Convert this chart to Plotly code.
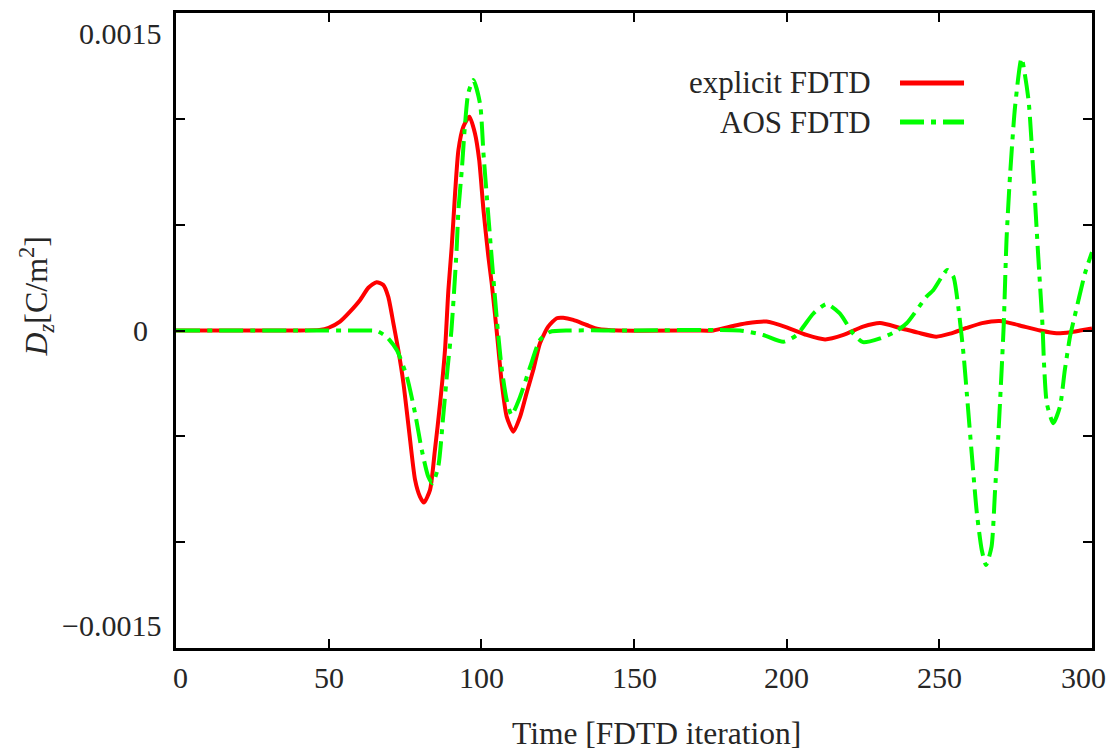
import plotly.graph_objects as go

# ---------------- data ----------------
t_explicit = [0, 20, 40, 47, 50, 53.7, 57, 60.3, 63, 65.7, 67.9, 69.5, 71.2, 72.8, 74.5, 76.3,
              78.3, 79.9, 81.2, 83.2, 84.8, 86.5, 88.1, 89.2, 90.3, 91.4, 92.5, 94.1, 96.1, 97.9,
              99.3, 100.7, 102.3, 103.4, 105.1, 106.7, 108.3, 110.5, 112.7, 114.8, 117, 119.2,
              121.9, 124.7, 126.8, 130.1, 134.5, 138.3, 145, 170, 176, 181.4, 186.9, 193.4, 200,
              206.5, 212.6, 218.6, 225, 230.6, 237.1, 243, 249, 253.5, 258.9, 264, 269.9, 276,
              283, 288.4, 293, 296.1, 300]
d_explicit = [0, 0, 0, 0.000003, 0.000013, 0.000042, 0.000089, 0.000144, 0.000202, 0.000228,
              0.000215, 0.00016, 0.000034, -0.000092, -0.00025, -0.00047, -0.000706, -0.000785,
              -0.000813, -0.000753, -0.000565, -0.000344, -0.000092, 0.00019, 0.000396, 0.000648,
              0.000853, 0.000963, 0.00101, 0.000932, 0.000805, 0.000569, 0.000349, 0.000223,
              -0.000013, -0.000249, -0.000407, -0.000478, -0.000407, -0.000297, -0.000187,
              -0.00006, 0.000018, 0.000058, 0.00006, 0.00005, 0.000026, 0.000007, 0, 0, 0,
              0.000018, 0.000034, 0.000042, 0.000015, -0.000021, -0.000042, -0.000021, 0.000018,
              0.000035, 0.000012, -0.00001, -0.000029, -0.000015, 0.000012, 0.000035, 0.000045,
              0.000025, 0, -0.000013, -0.000008, 0, 0.00001]

t_aos = [0, 40, 60, 65.7, 69, 72.3, 75.6, 78.3, 80.5, 82.6, 84, 85.9, 87.5, 89, 90.2, 91.9,
         92.5, 93.6, 94.6, 95.7, 97.4, 99.6, 100.7, 101.8, 103.1, 105, 106.6, 108.3, 109.9,
         112.7, 116, 119.2, 122.5, 129, 150, 184.7, 192.3, 198.9, 203.3, 208.8, 213.1, 217.4,
         221.8, 225, 230.6, 235, 239.3, 245.8, 248, 252.6, 254.6, 256.2, 257.9, 259, 260.6,
         262.3, 263.9, 265.3, 267.1, 268.2, 269.3, 270.4, 271.1, 272, 273.2, 274.8, 276.9,
         279.2, 280.8, 282.4, 283.8, 284.3, 285.2, 287.3, 289.5, 291.1, 292.8, 293.9, 297.7, 300]
d_aos = [0, 0, 0, -0.000002, -0.00003, -0.000092, -0.000218, -0.000391, -0.000565, -0.00069,
         -0.000722, -0.000643, -0.000407, -0.00017, 0, 0.00038, 0.000569, 0.000758, 0.000963,
         0.00112, 0.001183, 0.00107, 0.000837, 0.000632, 0.000396, 0.000065, -0.000171,
         -0.000328, -0.000399, -0.000313, -0.000171, -0.000045, -0.000006, 0, 0, 0, -0.000021,
         -0.000053, -0.000021, 0.000081, 0.000125, 0.000081, -0.000015, -0.000055, -0.000037,
         -0.00001, 0.000034, 0.00016, 0.00019, 0.000286, 0.000254, 0.000112, -0.000108,
         -0.000297, -0.00058, -0.000864, -0.001037, -0.001108, -0.001021, -0.000769, -0.000502,
         -0.000187, 0.00003, 0.000428, 0.000743, 0.001057, 0.001286, 0.00109, 0.000743,
         0.000349, 0.00002, -0.00016, -0.000344, -0.000438, -0.00036, -0.000187, -0.000029,
         0.00004, 0.00027, 0.00037]

series_names = ["explicit FDTD", "AOS FDTD"]
x_tick_vals = [0, 50, 100, 150, 200, 250, 300]
x_tick_text = ["0", "50", "100", "150", "200", "250", "300"]
y_minor_ticks = [-0.001, -0.0005, 0, 0.0005, 0.001]
y_label_vals = [0.0015, 0, -0.0015]
y_label_text = ["0.0015", "0", "\u22120.0015"]

FONT = "Liberation Serif"
TXT = "#262626"
RED = "#ff0000"
GREEN = "#00ff00"
DASHDOT = "24px,7px,5px,7px"

fig = go.Figure()
fig.add_trace(go.Scatter(x=t_explicit, y=d_explicit, mode="lines", name=series_names[0],
                         line=dict(color=RED, width=4, shape="spline", smoothing=0.6),
                         showlegend=False))
fig.add_trace(go.Scatter(x=t_aos, y=d_aos, mode="lines", name=series_names[1],
                         line=dict(color=GREEN, width=4, dash=DASHDOT, shape="spline", smoothing=0.6),
                         showlegend=False))

axis_common = dict(showgrid=False, zeroline=False, showline=True, linecolor="black",
                   linewidth=3, mirror="ticks", ticks="inside", ticklen=9, tickwidth=2,
                   tickcolor="black", automargin=False, showticklabels=False)

fig.update_xaxes(range=[0, 300], tickvals=x_tick_vals, **axis_common)
fig.update_yaxes(range=[-0.0015, 0.0015], tickvals=y_minor_ticks, **axis_common)

annotations = []
# x tick labels (gnuplot/epslatex places end labels slightly inward)
x_shifts = [4, 0, 0, 0, 0, 0, -9]
for v, txt, xs in zip(x_tick_vals, x_tick_text, x_shifts):
    annotations.append(dict(x=v, xref="x", y=0, yref="paper", text=txt, showarrow=False,
                            xanchor="center", yanchor="middle", xshift=xs, yshift=-29,
                            font=dict(family=FONT, size=30, color=TXT)))
# y tick labels
yshifts = [-20, 0, 23]
xshifts = [-12, -26, -13]
for v, txt, ys, xs in zip(y_label_vals, y_label_text, yshifts, xshifts):
    annotations.append(dict(x=0, xref="paper", y=v, yref="y", text=txt, showarrow=False,
                            xanchor="right", yanchor="middle", xshift=xs, yshift=ys,
                            font=dict(family=FONT, size=30, color=TXT)))
# axis titles
annotations.append(dict(x=0.5, xref="paper", y=0, yref="paper", text="Time [FDTD iteration]",
                        showarrow=False, xanchor="center", yanchor="middle", xshift=22, yshift=-85,
                        font=dict(family=FONT, size=31.5, color=TXT)))
annotations.append(dict(x=0, xref="paper", y=0.5, yref="paper",
                        text="<i>D</i><sub><i>z</i></sub>[C/m<sup>2</sup>]",
                        showarrow=False, textangle=-90, xanchor="center", yanchor="middle",
                        xshift=-140, yshift=34,
                        font=dict(family=FONT, size=32, color=TXT)))

# legend (gnuplot style: text left of the sample line)
leg_y = [0.8898, 0.8283]
leg_styles = [dict(color=RED, width=5), dict(color=GREEN, width=5, dash=DASHDOT)]
shapes = []
for name, ly, st in zip(series_names, leg_y, leg_styles):
    annotations.append(dict(x=0.7609, xref="paper", y=ly, yref="paper", text=name,
                            showarrow=False, xanchor="right", yanchor="middle",
                            font=dict(family=FONT, size=31, color=TXT)))
    shapes.append(dict(type="line", xref="paper", yref="paper", x0=0.7904, x1=0.8603,
                       y0=ly, y1=ly, line=st))

fig.update_layout(width=1117, height=751, margin=dict(l=176, r=25, t=13, b=103),
                  plot_bgcolor="white", paper_bgcolor="white",
                  annotations=annotations, shapes=shapes)

fig.write_html("out.html")
